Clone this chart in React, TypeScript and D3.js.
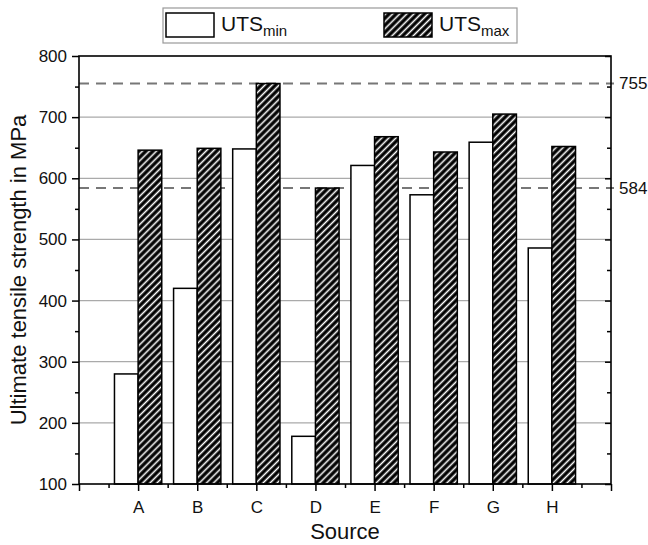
import { useEffect, useRef } from 'react';
import * as d3 from 'd3';

const sources = ['A', 'B', 'C', 'D', 'E', 'F', 'G', 'H'];
const utsMin = [280, 420, 648, 178, 621, 573, 659, 486];
const utsMax = [646, 649, 755, 584, 668, 643, 705, 652];
const refLines = [755, 584];
const yTicks = [100, 200, 300, 400, 500, 600, 700, 800];

export default function App() {
    const svgRef = useRef<SVGSVGElement>(null);
    const width = 648;
    const height = 545;

    useEffect(() => {
        if (!svgRef.current) return;
        const svg = d3.select(svgRef.current);
        svg.selectAll('*').remove();

        const m = { left: 79, right: 611, top: 56, bottom: 484 };
        const font = '"Liberation Sans", Arial, sans-serif';

        const x = d3.scaleLinear().domain([0, 9]).range([m.left, m.right]);
        const y = d3.scaleLinear().domain([100, 800]).range([m.bottom, m.top]);
        const bw = x(0.4) - x(0);

        // hatch pattern
        const defs = svg.append('defs');
        const pat = defs.append('pattern')
            .attr('id', 'hatch')
            .attr('patternUnits', 'userSpaceOnUse')
            .attr('width', 5)
            .attr('height', 5)
            .attr('patternTransform', 'rotate(45)');
        pat.append('rect').attr('width', 5).attr('height', 5).attr('fill', '#000');
        pat.append('line')
            .attr('x1', 2.5).attr('x2', 2.5).attr('y1', 0).attr('y2', 5)
            .attr('stroke', '#fff').attr('stroke-width', 1.6);

        // gridlines
        svg.append('g')
            .selectAll('line')
            .data(yTicks.filter(d => d > 100 && d < 800))
            .join('line')
            .attr('x1', m.left).attr('x2', m.right)
            .attr('y1', d => y(d)).attr('y2', d => y(d))
            .attr('stroke', '#aaa').attr('stroke-width', 1.2);

        // reference dashed lines
        svg.append('g')
            .selectAll('line')
            .data(refLines)
            .join('line')
            .attr('x1', m.left).attr('x2', m.right + 3)
            .attr('y1', d => y(d)).attr('y2', d => y(d))
            .attr('stroke', '#777').attr('stroke-width', 2)
            .attr('stroke-dasharray', '10,7');

        // bars
        const bars = svg.append('g');
        bars.selectAll('rect.min')
            .data(utsMin)
            .join('rect')
            .attr('class', 'min')
            .attr('x', (d, i) => x(i + 1) - bw)
            .attr('y', d => y(d))
            .attr('width', bw)
            .attr('height', d => y(100) - y(d))
            .attr('fill', '#fff')
            .attr('stroke', '#000')
            .attr('stroke-width', 1.5);
        bars.selectAll('rect.max')
            .data(utsMax)
            .join('rect')
            .attr('class', 'max')
            .attr('x', (d, i) => x(i + 1))
            .attr('y', d => y(d))
            .attr('width', bw)
            .attr('height', d => y(100) - y(d))
            .attr('fill', 'url(#hatch)')
            .attr('stroke', '#000')
            .attr('stroke-width', 1.5);

        // frame
        svg.append('rect')
            .attr('x', m.left).attr('y', m.top)
            .attr('width', m.right - m.left).attr('height', m.bottom - m.top)
            .attr('fill', 'none').attr('stroke', '#000').attr('stroke-width', 1.6);

        // left axis
        const left = svg.append('g')
            .attr('transform', `translate(${m.left},0)`)
            .call(d3.axisLeft(y).tickValues(yTicks).tickSize(7).tickPadding(5));
        left.select('.domain').remove();
        left.selectAll('.tick line').attr('stroke-width', 1.5);
        left.selectAll('text').style('font-size', '17px').style('font-family', font).attr('fill', '#111');
        const minorY = d3.range(150, 800, 100);
        svg.append('g')
            .attr('transform', `translate(${m.left},0)`)
            .call(d3.axisLeft(y).tickValues(minorY).tickSize(4).tickFormat(() => ''))
            .call(g => g.select('.domain').remove())
            .selectAll('.tick line').attr('stroke-width', 1.5);

        // right axis (inward ticks)
        svg.append('g')
            .attr('transform', `translate(${m.right},0)`)
            .call(d3.axisLeft(y).tickValues(yTicks).tickSize(6).tickFormat(() => ''))
            .call(g => g.select('.domain').remove())
            .selectAll('.tick line').attr('stroke-width', 1.5);
        svg.append('g')
            .attr('transform', `translate(${m.right},0)`)
            .call(d3.axisLeft(y).tickValues(minorY).tickSize(4).tickFormat(() => ''))
            .call(g => g.select('.domain').remove())
            .selectAll('.tick line').attr('stroke-width', 1.5);

        // right labels for reference lines
        svg.append('g')
            .selectAll('text')
            .data(refLines)
            .join('text')
            .attr('x', m.right + 8)
            .attr('y', d => y(d))
            .attr('dy', '0.35em')
            .style('font-size', '17px')
            .style('font-family', font)
            .attr('fill', '#111')
            .text(d => d);

        // bottom axis
        const bottom = svg.append('g')
            .attr('transform', `translate(0,${m.bottom})`)
            .call(d3.axisBottom(x)
                .tickValues(d3.range(0, 10))
                .tickSize(7)
                .tickPadding(10)
                .tickFormat(d => sources[(d as number) - 1] ?? ''));
        bottom.select('.domain').remove();
        bottom.selectAll('.tick line').attr('stroke-width', 1.5);
        bottom.selectAll('text').style('font-size', '17px').style('font-family', font).attr('fill', '#111');
        svg.append('g')
            .attr('transform', `translate(0,${m.bottom})`)
            .call(d3.axisBottom(x).tickValues(d3.range(0.5, 9, 1)).tickSize(4).tickFormat(() => ''))
            .call(g => g.select('.domain').remove())
            .selectAll('.tick line').attr('stroke-width', 1.5);

        // axis titles
        svg.append('text')
            .attr('x', (m.left + m.right) / 2)
            .attr('y', 539)
            .attr('text-anchor', 'middle')
            .style('font-size', '22px')
            .style('font-family', font)
            .attr('fill', '#111')
            .text('Source');
        svg.append('text')
            .attr('transform', `translate(26,${(m.top + m.bottom) / 2}) rotate(-90)`)
            .attr('text-anchor', 'middle')
            .style('font-size', '22px')
            .style('font-family', font)
            .attr('fill', '#111')
            .text('Ultimate tensile strength in MPa');

        // legend
        const lg = svg.append('g');
        lg.append('rect')
            .attr('x', 163).attr('y', 8).attr('width', 354).attr('height', 35)
            .attr('fill', '#fff').attr('stroke', '#999').attr('stroke-width', 1.2);
        const items = [
            { sub: 'min', fill: '#fff', x: 166 },
            { sub: 'max', fill: 'url(#hatch)', x: 384 },
        ];
        items.forEach(it => {
            lg.append('rect')
                .attr('x', it.x).attr('y', 13).attr('width', 48).attr('height', 24)
                .attr('fill', it.fill).attr('stroke', '#000').attr('stroke-width', 1.5);
            const t = lg.append('text')
                .attr('x', it.x + 55).attr('y', 31)
                .style('font-size', '21px')
                .style('font-family', font)
                .attr('fill', '#111');
            t.append('tspan').text('UTS');
            t.append('tspan').attr('dy', 5).style('font-size', '15px').text(it.sub);
        });
    }, []);

    return (
        <div style={{ position: 'absolute', left: 0, top: 0 }}>
            <svg ref={svgRef} width={width} height={height} style={{ display: 'block', background: '#fff' }} />
        </div>
    );
}
